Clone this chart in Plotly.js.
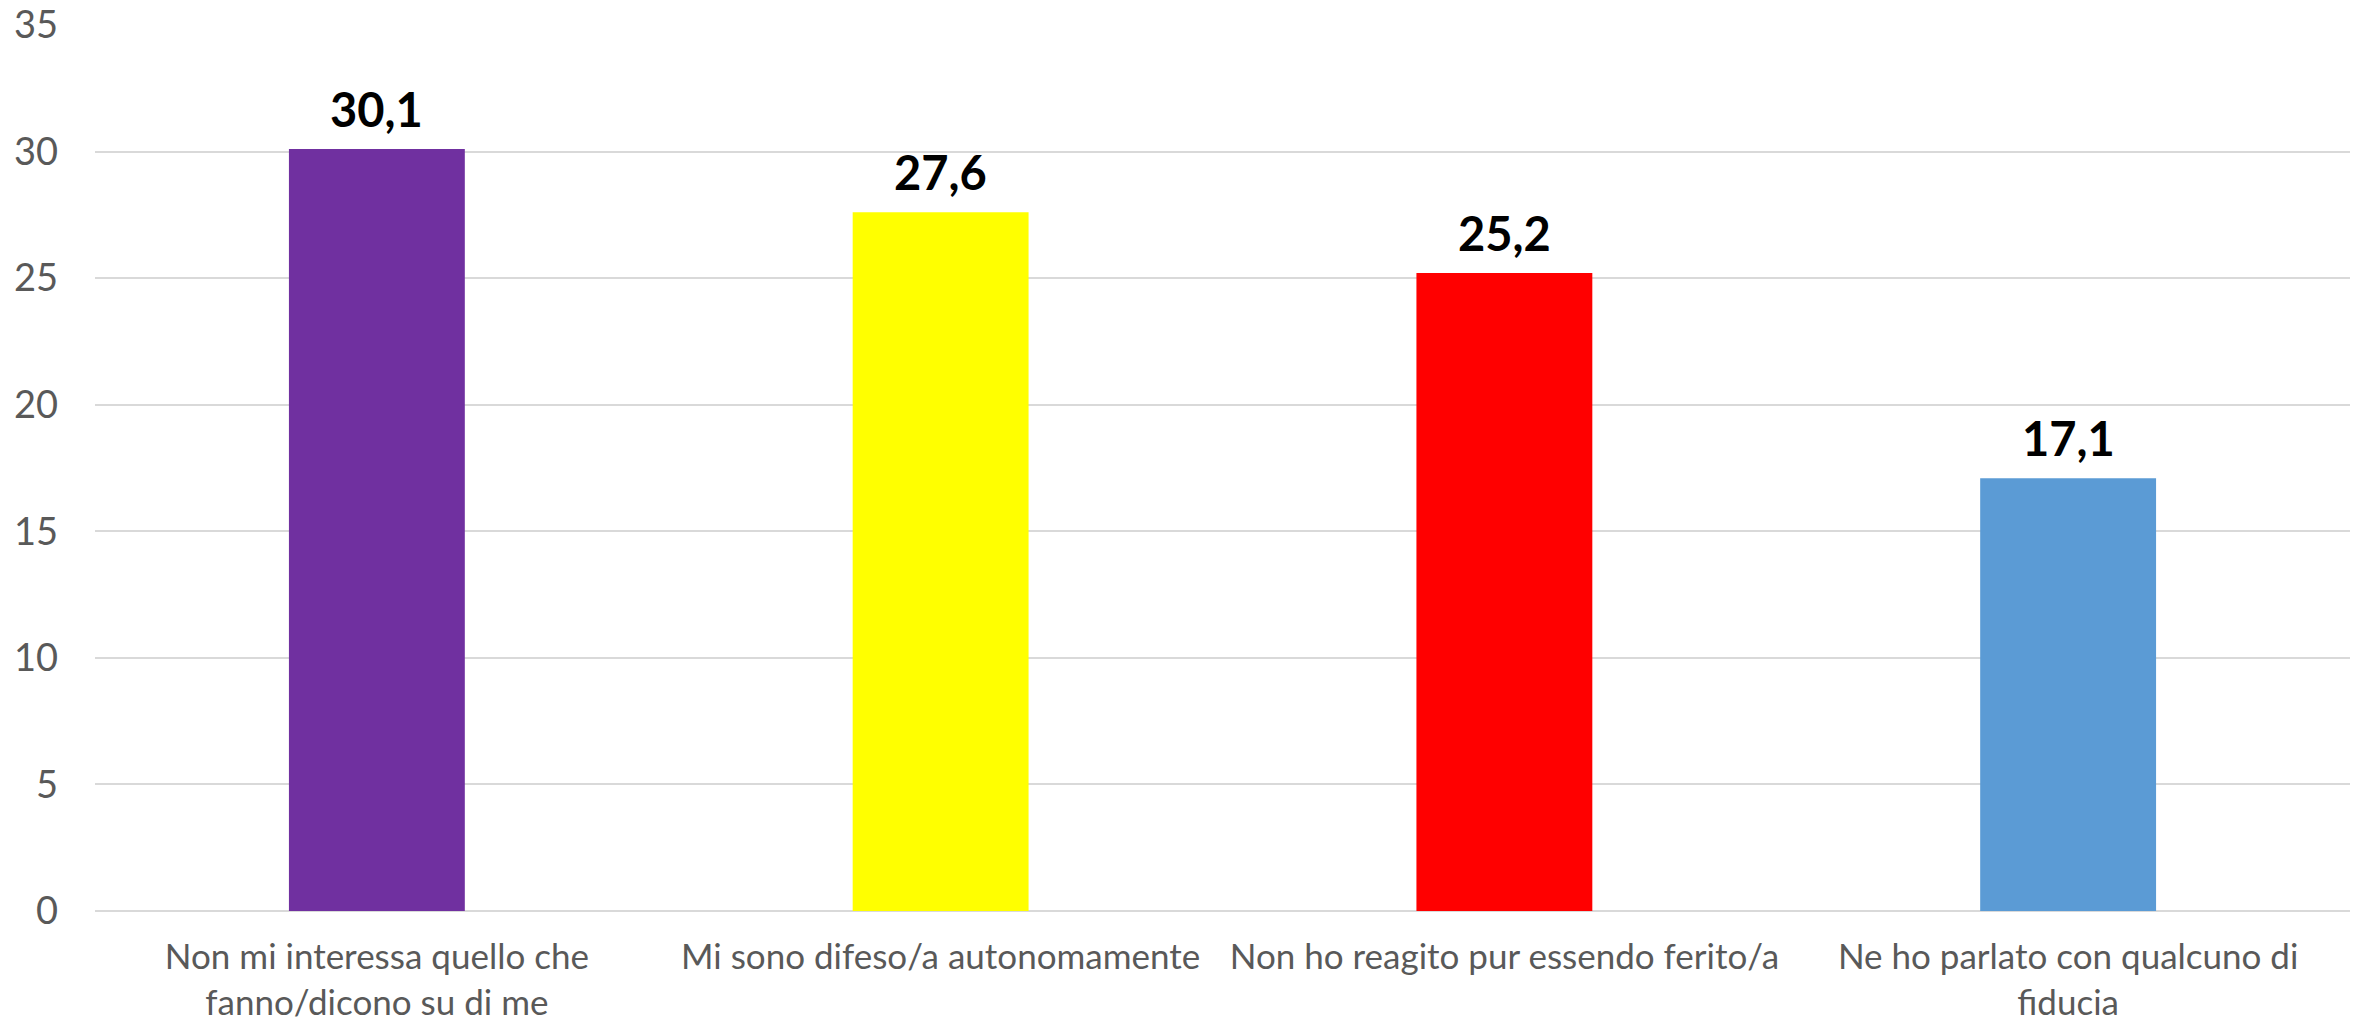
<!DOCTYPE html>
<html>
<head>
<meta charset="utf-8">
<script src="https://cdn.plot.ly/plotly-3.0.1.min.js"></script>
<style>
html,body{margin:0;padding:0;background:#fff;}
#chart{width:2359px;height:1021px;}
</style>
</head>
<body>
<div id="chart"></div>
<script>
const categories = [
  "Non mi interessa quello che<br>fanno/dicono su di me",
  "Mi sono difeso/a autonomamente",
  "Non ho reagito pur essendo ferito/a",
  "Ne ho parlato con qualcuno di<br>fiducia"
];
const values = [30.1, 27.6, 25.2, 17.1];
const valueLabels = ["30,1", "27,6", "25,2", "17,1"];
const barColors = ["#7030A0", "#FFFF00", "#FF0000", "#5B9BD5"];
const yTicks = [0, 5, 10, 15, 20, 25, 30, 35];

const trace = {
  type: "bar",
  x: categories,
  y: values,
  marker: {color: barColors, line: {width: 0}},
  hoverinfo: "none"
};

const annotations = categories.map((c, i) => ({
  x: c, y: values[i], xref: "x", yref: "y",
  text: "<b>" + valueLabels[i] + "</b>",
  showarrow: false, yanchor: "bottom", yshift: 10,
  font: {family: "Lato, 'Open Sans', sans-serif", size: 47, color: "#000000"}
}));

const layout = {
  width: 2359, height: 1021,
  margin: {l: 95, r: 9, t: 25, b: 110},
  paper_bgcolor: "#ffffff", plot_bgcolor: "#ffffff",
  showlegend: false,
  bargap: 0.688,
  xaxis: {
    type: "category",
    showgrid: false, showline: false, zeroline: false,
    ticks: "", ticklabelstandoff: 22,
    tickfont: {family: "Lato, 'Open Sans', sans-serif", size: 35, color: "#595959"}
  },
  yaxis: {
    range: [0, 35], tickvals: yTicks, ticktext: yTicks.map(String),
    showgrid: true, gridcolor: "#d9d9d9", gridwidth: 2,
    zeroline: true, zerolinecolor: "#d9d9d9", zerolinewidth: 2,
    showline: false, ticks: "", ticklabelstandoff: 36,
    tickfont: {family: "Lato, 'Open Sans', sans-serif", size: 38, color: "#595959"}
  },
  annotations: annotations
};

Plotly.newPlot("chart", [trace], layout, {displayModeBar: false, staticPlot: true});
</script>
</body>
</html>
